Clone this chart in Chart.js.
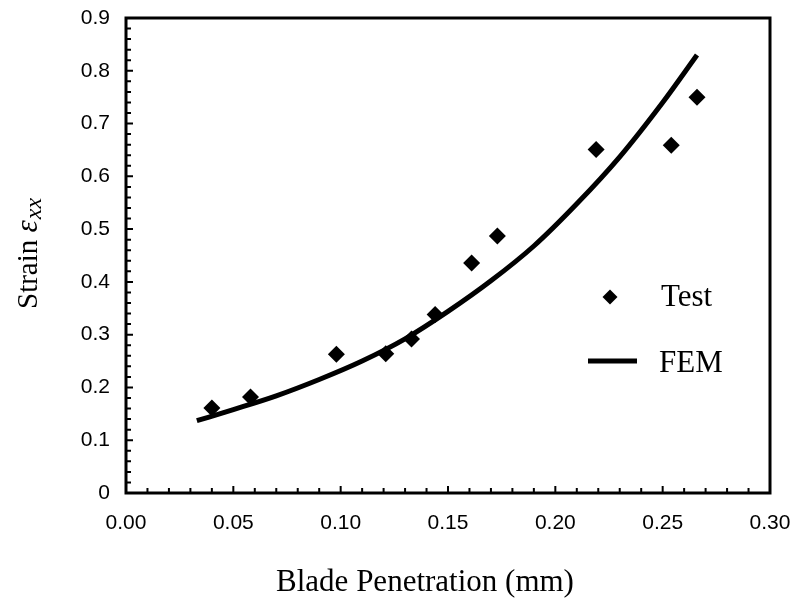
<!DOCTYPE html>
<html>
<head>
<meta charset="utf-8">
<script src="https://cdn.jsdelivr.net/npm/chart.js@4"></script>
<style>
  html, body { margin: 0; padding: 0; background: #fff; }
  #wrap { width: 795px; height: 600px; }
</style>
</head>
<body>
<div id="wrap"><canvas id="chart" width="795" height="600"></canvas></div>
<script>
// Test measurements (blade penetration in mm, strain)
const testX = [0.040, 0.058, 0.098, 0.121, 0.133, 0.144, 0.161, 0.173, 0.219, 0.254, 0.266];
const testY = [0.161, 0.182, 0.263, 0.264, 0.292, 0.338, 0.436, 0.487, 0.651, 0.659, 0.750];

// FEM curve
const femX = [0.033, 0.050, 0.070, 0.090, 0.110, 0.130, 0.150, 0.170, 0.190, 0.210, 0.230, 0.250, 0.266];
const femY = [0.137, 0.158, 0.184, 0.215, 0.250, 0.292, 0.344, 0.402, 0.468, 0.548, 0.637, 0.740, 0.830];

const xTicks = [0, 0.05, 0.10, 0.15, 0.20, 0.25, 0.30];
const yTicks = [0, 0.1, 0.2, 0.3, 0.4, 0.5, 0.6, 0.7, 0.8, 0.9];

const SERIF = '"Liberation Serif", "Times New Roman", serif';
const SANS = '"Liberation Sans", Arial, sans-serif';

const toPoints = (xs, ys) => xs.map((x, i) => ({ x, y: ys[i] }));

// frame, inward ticks, axis titles and legend
const decorations = {
  id: 'decorations',
  afterDraw(chart) {
    const { ctx, chartArea: a, scales: { x, y } } = chart;
    ctx.save();
    ctx.strokeStyle = '#000';
    ctx.fillStyle = '#000';

    // box
    ctx.lineWidth = 3;
    ctx.strokeRect(a.left, a.top, a.right - a.left, a.bottom - a.top);

    // ticks on x axis: minor every 0.01
    ctx.lineWidth = 2;
    ctx.beginPath();
    for (let i = 0; i <= 30; i++) {
      const px = x.getPixelForValue(i / 100);
      const len = i % 5 === 0 ? 7 : 5;
      ctx.moveTo(px, a.bottom);
      ctx.lineTo(px, a.bottom - len);
    }
    // ticks on y axis: minor every 0.02
    for (let i = 0; i <= 45; i++) {
      const py = y.getPixelForValue(i / 50);
      const len = i % 5 === 0 ? 7 : 5;
      ctx.moveTo(a.left, py);
      ctx.lineTo(a.left + len, py);
    }
    ctx.stroke();

    // x title
    ctx.font = '31px ' + SERIF;
    ctx.textAlign = 'center';
    ctx.textBaseline = 'alphabetic';
    ctx.fillText('Blade Penetration (mm)', 425, 591);

    // y title: Strain ε_xx
    ctx.save();
    ctx.translate(37, 309);
    ctx.rotate(-Math.PI / 2);
    ctx.textAlign = 'left';
    ctx.font = '29px ' + SERIF;
    const w1 = ctx.measureText('Strain ').width;
    ctx.fillText('Strain ', 0, 0);
    ctx.font = 'italic 31px ' + SERIF;
    const w2 = ctx.measureText('\u03b5').width;
    ctx.fillText('\u03b5', w1, 0);
    ctx.font = 'italic 24px ' + SERIF;
    ctx.fillText('xx', w1 + w2 + 1, 4);
    ctx.restore();

    // legend
    ctx.textAlign = 'left';
    ctx.font = '31px ' + SERIF;
    ctx.beginPath();
    ctx.moveTo(610, 297 - 7.5);
    ctx.lineTo(617.5, 297);
    ctx.lineTo(610, 297 + 7.5);
    ctx.lineTo(602.5, 297);
    ctx.closePath();
    ctx.fill();
    ctx.fillText('Test', 661, 306);
    ctx.lineWidth = 5;
    ctx.beginPath();
    ctx.moveTo(588, 361);
    ctx.lineTo(637, 361);
    ctx.stroke();
    ctx.fillText('FEM', 659, 372);

    ctx.restore();
  }
};

new Chart(document.getElementById('chart'), {
  type: 'scatter',
  data: {
    datasets: [
      {
        label: 'Test',
        data: toPoints(testX, testY),
        pointStyle: 'rectRot',
        pointRadius: 8.5,
        pointHoverRadius: 8.5,
        backgroundColor: '#000',
        borderColor: '#000',
        borderWidth: 0
      },
      {
        label: 'FEM',
        data: toPoints(femX, femY),
        showLine: true,
        borderColor: '#000',
        borderWidth: 5,
        pointRadius: 0,
        cubicInterpolationMode: 'monotone',
        fill: false
      }
    ]
  },
  options: {
    responsive: false,
    animation: false,
    events: [],
    layout: { padding: { top: 18, right: 25, left: 0, bottom: 0 } },
    plugins: {
      legend: { display: false },
      tooltip: { enabled: false }
    },
    scales: {
      x: {
        type: 'linear',
        min: 0,
        max: 0.3,
        afterBuildTicks: s => { s.ticks = xTicks.map(v => ({ value: v })); },
        afterFit: s => { s.height = 107; s.paddingLeft = 0; s.paddingRight = 0; },
        grid: { display: false, drawTicks: false },
        border: { display: false },
        ticks: {
          padding: 18,
          color: '#000',
          font: { family: SANS, size: 21 },
          callback: v => v.toFixed(2)
        }
      },
      y: {
        min: 0,
        max: 0.9,
        afterBuildTicks: s => { s.ticks = yTicks.map(v => ({ value: v })); },
        afterFit: s => { s.width = 126; s.paddingTop = 0; s.paddingBottom = 0; },
        grid: { display: false, drawTicks: false },
        border: { display: false },
        ticks: {
          padding: 16,
          color: '#000',
          font: { family: SANS, size: 21 },
          callback: v => v === 0 ? '0' : v.toFixed(1)
        }
      }
    }
  },
  plugins: [decorations]
});
</script>
</body>
</html>
